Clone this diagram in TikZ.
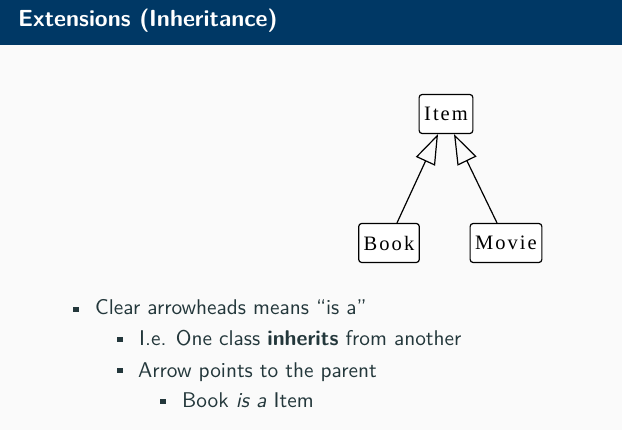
\documentclass[tikz,border=0pt]{standalone}
\usepackage{fontspec}
\newfontfamily\boxfont[LetterSpace=10]{Liberation Serif}
\newfontfamily\slidefont{lmsans10-regular.otf}[BoldFont=lmsans10-bold.otf, ItalicFont=lmsans10-oblique.otf, BoldItalicFont=lmsans10-boldoblique.otf, Ligatures=TeX]
\usetikzlibrary{arrows.meta}
\definecolor{hdr}{RGB}{0,56,101}
\definecolor{bg}{RGB}{250,250,250}
\definecolor{txt}{RGB}{35,55,59}
\tikzset{
  classbox/.style={draw, line width=1.2pt, rounded corners=3pt, fill=white,
    inner xsep=5pt, inner ysep=0pt, minimum height=39pt,
    font=\fontsize{20.5}{24}\boxfont, text=black},
  isa/.style={line width=1.2pt, -{Triangle[open, length=30pt, width=21pt, line width=1.2pt]}},
  bodytext/.style={anchor=base west, inner sep=0pt, text=txt, font=\fontsize{21.3}{25}\slidefont},
  bul/.style={fill=txt, draw=none, inner sep=0pt, minimum width=5.5pt, minimum height=5.5pt}
}
\begin{document}
\begin{tikzpicture}[x=1pt,y=-1pt]
\useasboundingbox (0,0) rectangle (622,430);
\fill[bg] (0,0) rectangle (622,430);
\fill[hdr] (0,0) rectangle (622,45);
\node[anchor=base west, inner sep=0pt, text=white, font=\fontsize{23.3}{28}\slidefont\bfseries] (title) at (18,27) {Extensions (Inheritance)};

\node[classbox] (Item) at (446,114) {Item};
\node[classbox] (Book) at (389,243) {Book};
\node[classbox] (Movie) at (506,243) {Movie};
\draw[isa] ([xshift=8pt]Book.north) -- ([xshift=-8pt]Item.south);
\draw[isa] ([xshift=-9pt]Movie.north) -- ([xshift=8pt]Item.south);

\node[bul] (b1) at (76,309.5) {};
\node[bodytext] (t1) at (95,315) {Clear arrowheads means “is a”};
\node[bul] (b2) at (120,339.5) {};
\node[bodytext] (t2) at (139,346) {I.e. One class \textbf{inherits} from another};
\node[bul] (b3) at (120,370.5) {};
\node[bodytext] (t3) at (138,378) {Arrow points to the parent};
\node[bul] (b4) at (163,401.5) {};
\node[bodytext] (t4) at (182,408) {Book \textit{is a} Item};
\end{tikzpicture}
\end{document}
